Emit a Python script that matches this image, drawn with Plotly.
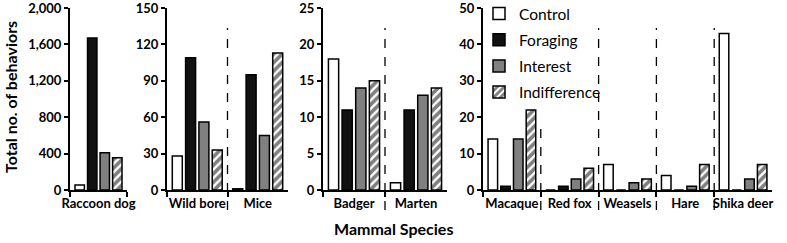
import plotly.graph_objects as go

W, H = 787, 243

# ---- data ----
species = ["Raccoon dog", "Wild bore", "Mice", "Badger", "Marten",
           "Macaque", "Red fox", "Weasels", "Hare", "Shika deer"]
panel_of = [1, 2, 2, 3, 3, 4, 4, 4, 4, 4]
control = [55, 28, 1, 18, 1, 14, 0, 7, 4, 43]
foraging = [1670, 109, 95, 11, 11, 1, 1, 0, 0, 0]
interest = [410, 56, 45, 14, 13, 14, 3, 2, 1, 3]
indifference = [355, 33, 113, 15, 14, 22, 6, 3, 7, 7]
series_names = ["Control", "Foraging", "Interest", "Indifference"]
panel_ticks = [[0, 400, 800, 1200, 1600, 2000],
               [0, 30, 60, 90, 120, 150],
               [0, 5, 10, 15, 20, 25],
               [0, 10, 20, 30, 40, 50]]

# ---- layout helpers (pixel -> paper) ----
def fx(px):
    return px / W

def fy(py):
    return 1 - py / H

panel_px = [(70, 127), (167, 288), (323, 447), (483, 772)]
plot_top, plot_bottom = 8, 190

styles = {
    "Control": dict(color="white", line=dict(color="black", width=1.5)),
    "Foraging": dict(color="#111111", line=dict(color="black", width=1.5)),
    "Interest": dict(color="#808080", line=dict(color="black", width=1.5)),
    "Indifference": dict(color="white", line=dict(color="black", width=1.5),
                         pattern=dict(shape="/", fgcolor="black", bgcolor="white",
                                      size=6, solidity=0.6)),
}
values = {"Control": control, "Foraging": foraging,
          "Interest": interest, "Indifference": indifference}

fig = go.Figure()
FONT = "Lato"

for p in range(1, 5):
    idx = [i for i, q in enumerate(panel_of) if q == p]
    cats = [species[i] for i in idx]
    xa = "x" if p == 1 else f"x{p}"
    ya = "y" if p == 1 else f"y{p}"
    for s in series_names:
        fig.add_trace(go.Bar(
            x=cats, y=[values[s][i] for i in idx], name=s,
            xaxis=xa, yaxis=ya, marker=styles[s],
            showlegend=(p == 4), legendgroup=s,
        ))
    x0, x1 = panel_px[p - 1]
    key = "" if p == 1 else str(p)
    ticks = panel_ticks[p - 1]
    fig.layout["xaxis" + key] = dict(
        domain=[fx(x0), fx(x1)], anchor=ya, type="category",
        range=[-0.5, len(cats) - 0.5], showline=True, linecolor="black",
        linewidth=2, ticks="outside", tickson="boundaries", ticklen=5,
        tickwidth=1.5, tickcolor="black", showgrid=False, zeroline=False,
        tickangle=0, automargin=False, ticklabeloverflow="allow",
        tickfont=dict(family=FONT, size=13, color="black", weight="bold"),
        fixedrange=True,
    )
    fig.layout["yaxis" + key] = dict(
        domain=[fy(plot_bottom), fy(plot_top)], anchor=xa,
        range=[0, ticks[-1]], tickmode="array", tickvals=ticks,
        tickformat=",", showline=True, linecolor="black", linewidth=2,
        ticks="outside", ticklen=4, tickwidth=1.5, tickcolor="black",
        showgrid=False, zeroline=False, automargin=False,
        ticklabeloverflow="allow",
        tickfont=dict(family=FONT, size=13, color="black", weight="bold"),
        fixedrange=True,
    )

# dashed separators between species inside a panel
separators = [("x2", 0.5, 28), ("x3", 0.5, 28), ("x4", 0.5, 125),
              ("x4", 1.5, 28), ("x4", 2.5, 28), ("x4", 3.5, 28)]
for xr, xv, top in separators:
    fig.add_shape(type="line", xref=xr, yref="paper", x0=xv, x1=xv,
                  y0=fy(210), y1=fy(top),
                  line=dict(color="black", width=1.3, dash="dash"))

fig.add_annotation(text="Total no. of behaviors", textangle=-90,
                   x=fx(10), y=fy(97), xref="paper", yref="paper",
                   xanchor="center", yanchor="middle", showarrow=False,
                   font=dict(family=FONT, size=16, color="black", weight="bold"))
fig.add_annotation(text="Mammal Species", x=fx(393), y=fy(228),
                   xref="paper", yref="paper", xanchor="center",
                   yanchor="middle", showarrow=False,
                   font=dict(family=FONT, size=16, color="black", weight="bold"))

fig.update_layout(
    width=W, height=H, margin=dict(l=0, r=0, t=0, b=0, autoexpand=False),
    paper_bgcolor="white", plot_bgcolor="white",
    barmode="group", bargap=0.12, bargroupgap=0.25,
    legend=dict(x=fx(479), y=fy(-3), xanchor="left", yanchor="top",
                font=dict(family=FONT, size=15.5, color="black"),
                bgcolor="rgba(0,0,0,0)", tracegroupgap=3,
                itemwidth=30),
)

fig.write_html("out.html",
               config={"displayModeBar": False},
               post_script="document.body.style.margin='0px';"
                           "document.body.style.overflow='hidden';")
